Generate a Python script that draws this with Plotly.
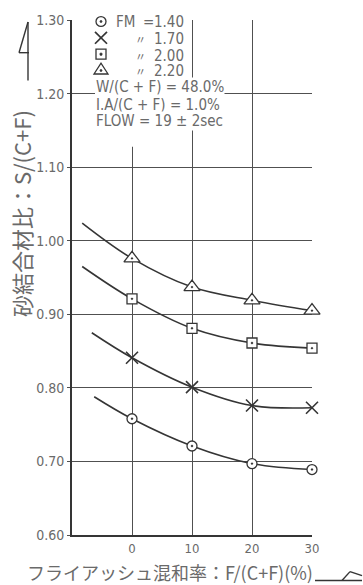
import plotly.graph_objects as go

# ---------------- data ----------------
fa_pct = [0, 10, 20, 30]                      # F/(C+F) %
x_tickvals = [0, 10, 20, 30]
x_ticktext = ["0", "10", "20", "30"]
y_tickvals = [0.60, 0.70, 0.80, 0.90, 1.00, 1.10, 1.20, 1.30]
y_ticktext = ["0.60", "0.70", "0.80", "0.90", "1.00", "1.10", "1.20", "1.30"]

fm_labels = ["1.40", "1.70", "2.00", "2.20"]
fm140 = [0.758, 0.721, 0.697, 0.689]
fm170 = [0.841, 0.801, 0.776, 0.773]
fm200 = [0.921, 0.881, 0.861, 0.854]
fm220 = [0.976, 0.937, 0.919, 0.905]

# where each fitted curve begins (left of the first measured point)
curve_start_x = [-6.3, -6.7, -8.3, -8.3]
curve_start_y = [0.788, 0.875, 0.965, 1.024]

series = [fm140, fm170, fm200, fm220]
symbols = ["circle-dot", "x-thin", "square-dot", "triangle-up-dot"]
sizes = [10, 12, 10, 14]

INK = "#353535"
GRID = "#505050"
TXT = "#6a6a6a"
NARROW = "DejaVu Sans Condensed, Liberation Sans Narrow, Arial Narrow, sans-serif"
CJK = "Noto Sans CJK JP, sans-serif"

W, H = 363, 585
L, R, T, B = 72, 312, 15, 535


def px(x):
    return (x - L) / (R - L)


def py(y):
    return (B - y) / (B - T)


fig = go.Figure()

for i, vals in enumerate(series):
    fig.add_trace(go.Scatter(
        x=[curve_start_x[i]] + fa_pct,
        y=[curve_start_y[i]] + vals,
        mode="lines",
        line=dict(color=INK, width=1.6, shape="spline", smoothing=1.0),
        hoverinfo="skip", showlegend=False, cliponaxis=False,
    ))

for i, vals in enumerate(series):
    if symbols[i] == "x-thin":
        mk = dict(symbol="x-thin", size=sizes[i], color=INK,
                  line=dict(color=INK, width=1.6))
    else:
        mk = dict(symbol=symbols[i], size=sizes[i], color="white",
                  line=dict(color=INK, width=1.3))
    fig.add_trace(go.Scatter(
        x=fa_pct, y=vals, mode="markers", marker=mk,
        showlegend=False, cliponaxis=False,
    ))

shapes = []
# white block behind the legend text (gridlines interrupted there)
shapes.append(dict(type="rect", xref="paper", yref="paper",
                   x0=px(95), x1=px(190), y0=py(143), y1=py(11),
                   fillcolor="white", line=dict(width=0), layer="above"))


def seg(x0, y0, x1, y1, w=1.4):
    shapes.append(dict(type="line", xref="paper", yref="paper",
                       x0=px(x0), y0=py(y0), x1=px(x1), y1=py(y1),
                       line=dict(color=INK, width=w), layer="above"))


def box(kind, x0, y0, x1, y1, w=1.3, fill="white"):
    shapes.append(dict(type=kind, xref="paper", yref="paper",
                       x0=px(x0), y0=py(y1), x1=px(x1), y1=py(y0),
                       fillcolor=fill, line=dict(color=INK, width=w),
                       layer="above"))


def tri(cx, cy, w, h):
    x0, x1, xm = px(cx - w / 2), px(cx + w / 2), px(cx)
    yb, yt = py(cy + h / 2), py(cy - h / 2)
    shapes.append(dict(type="path", xref="paper", yref="paper",
                       path=f"M {x0},{yb} L {x1},{yb} L {xm},{yt} Z",
                       fillcolor="white", line=dict(color=INK, width=1.3),
                       layer="above"))


# flag mark on the y-axis title
seg(28, 17, 28, 76)
seg(28, 17, 19, 48)
seg(19, 48, 29, 48)
# flag mark after x-axis title
seg(315, 581, 362, 581)
seg(342, 581, 350, 572)
seg(350, 572, 362, 576)

# legend keys drawn as small shapes
sym_rows = [16.5, 33, 49.5, 64]
SX = 101
box("circle", SX - 5, sym_rows[0] - 5, SX + 5, sym_rows[0] + 5)
box("circle", SX - 1, sym_rows[0] - 1, SX + 1, sym_rows[0] + 1, w=0.8, fill=INK)
seg(SX - 6, sym_rows[1] - 6, SX + 6, sym_rows[1] + 6, w=1.7)
seg(SX - 6, sym_rows[1] + 6, SX + 6, sym_rows[1] - 6, w=1.7)
box("rect", SX - 5, sym_rows[2] - 5, SX + 5, sym_rows[2] + 5)
box("rect", SX - 1, sym_rows[2] - 1, SX + 1, sym_rows[2] + 1, w=0.8, fill=INK)
tri(SX, sym_rows[3], 14, 11)
box("circle", SX - 1, sym_rows[3] + 1, SX + 1, sym_rows[3] + 3, w=0.8, fill=INK)

ann = []
rows = [17.5, 34, 51, 67]
for i, lab in enumerate(fm_labels):
    if i == 0:
        ann.append(dict(x=px(114), y=py(rows[i]), text="FM", xanchor="left",
                        font=dict(family=NARROW, size=15, color=TXT)))
        ann.append(dict(x=px(141), y=py(rows[i]), text="=",
                        font=dict(family=NARROW, size=15, color=TXT)))
    else:
        ann.append(dict(x=px(133), y=py(rows[i]), text="〃",
                        font=dict(family=CJK, size=11, color=TXT)))
    ann.append(dict(x=px(152), y=py(rows[i]), text=lab, xanchor="left",
                    font=dict(family=NARROW, size=15, color=TXT)))

cond_text = ["W/(C + F) = 48.0%", "I.A/(C + F) = 1.0%", "FLOW = 19 ± 2sec"]
cond_rows = [83, 101, 117]
for t, r in zip(cond_text, cond_rows):
    ann.append(dict(x=px(95), y=py(r), text=t, xanchor="left",
                    bgcolor="white", borderpad=0,
                    font=dict(family=NARROW, size=15, color=TXT)))

# axis titles
ann.append(dict(x=px(21), y=py(211), text="砂結合材比：S/(C+F)", textangle=-90,
                xanchor="center", yanchor="middle",
                font=dict(family=CJK, size=22, color=TXT)))
ann.append(dict(x=px(170), y=py(572), text="フライアッシュ混和率：F/(C+F)(%)",
                xanchor="center", yanchor="middle",
                font=dict(family=CJK, size=18, color=TXT)))

for a in ann:
    a.setdefault("xref", "paper")
    a.setdefault("yref", "paper")
    a.setdefault("showarrow", False)
    a.setdefault("yanchor", "middle")

fig.update_layout(
    width=W, height=H,
    margin=dict(l=L, r=W - R, t=T, b=H - B, pad=0),
    paper_bgcolor="white", plot_bgcolor="white",
    shapes=shapes, annotations=ann,
    xaxis=dict(range=[-10, 30.0001], tickvals=x_tickvals, ticktext=x_ticktext,
               showgrid=True, gridcolor=GRID, gridwidth=1.2,
               showline=True, linecolor=INK, linewidth=2, mirror=False,
               zeroline=False, ticks="", ticklabelstandoff=0,
               tickfont=dict(family=NARROW, size=13, color=TXT)),
    yaxis=dict(range=[0.6, 1.3001], tickvals=y_tickvals, ticktext=y_ticktext,
               showgrid=True, gridcolor=GRID, gridwidth=1.2,
               showline=True, linecolor=INK, linewidth=2,
               zeroline=False, ticks="outside", ticklen=3, tickcolor=GRID,
               tickfont=dict(family=NARROW, size=14, color=TXT)),
)

fig.write_html(
    "out.html",
    config={"displayModeBar": False},
    post_script="document.body.style.margin='0';document.body.style.padding='0';",
)
